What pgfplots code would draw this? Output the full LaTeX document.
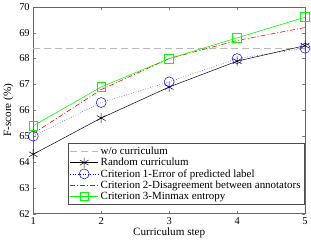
\documentclass[border=0pt]{standalone}
\usepackage{pgfplots}
\pgfplotsset{compat=1.18}
\usepackage{fontspec}
\setmainfont{Liberation Serif}
\begin{document}
\begin{tikzpicture}[x=1bp,y=1bp]
\begin{axis}[
  scale only axis,
  width=272bp, height=207bp,
  xmin=1, xmax=5, ymin=62, ymax=70,
  xtick={1,2,3,4,5}, ytick={62,63,...,70},
  tick align=inside,
  major tick length=3bp,
  tick style={black!50, line width=0.4pt},
  axis line style={black!60, line width=0.5pt},
  tick label style={font=\fontsize{10.5}{12}\selectfont},
  /pgf/number format/assume math mode=true,
  xlabel={Curriculum step},
  ylabel={F-score (\%)},
  label style={font=\fontsize{11.2}{13}\selectfont},
  xlabel style={yshift=3bp},
  ylabel style={yshift=-1bp},
  legend style={font=\fontsize{11}{12}\selectfont, at={(0.128,0.045)}, anchor=south west, draw=black!70, row sep=-1.8bp, inner sep=1.5bp},
  legend cell align=left,
  legend image code/.code={\draw[mark repeat=2,mark phase=2,#1] plot coordinates {(0bp,0bp) (14bp,0bp) (28bp,0bp)};},
]
\addplot[gray!55, line width=1pt, dash pattern=on 7bp off 4bp] coordinates {(1,68.4) (5,68.4)};
\addlegendentry{w/o curriculum}
\addplot[black, line width=0.5pt, mark=asterisk, mark size=5bp, mark options={solid}] coordinates {(1,64.3) (2,65.7) (3,66.9) (4,67.9) (5,68.5)};
\addlegendentry{Random curriculum}
\addplot[blue, dotted, line width=0.5pt, mark=o, mark size=5bp, mark options={solid}] coordinates {(1,65.0) (2,66.3) (3,67.1) (4,68.0) (5,68.4)};
\addlegendentry{Criterion 1-Error of predicted label}
\addplot[red, line width=0.6pt, dash pattern=on 5bp off 2bp on 1bp off 2bp] coordinates {(1,65.1) (2,66.8) (3,68.0) (4,68.7) (5,69.2)};
\addlegendentry{Criterion 2-Disagreement between annotators}
\addplot[green, line width=0.6pt, mark=square, mark size=4.4bp, mark options={solid}] coordinates {(1,65.4) (2,66.9) (3,68.0) (4,68.8) (5,69.6)};
\addlegendentry{Criterion 3-Minmax entropy}
\end{axis}
\end{tikzpicture}
\end{document}
